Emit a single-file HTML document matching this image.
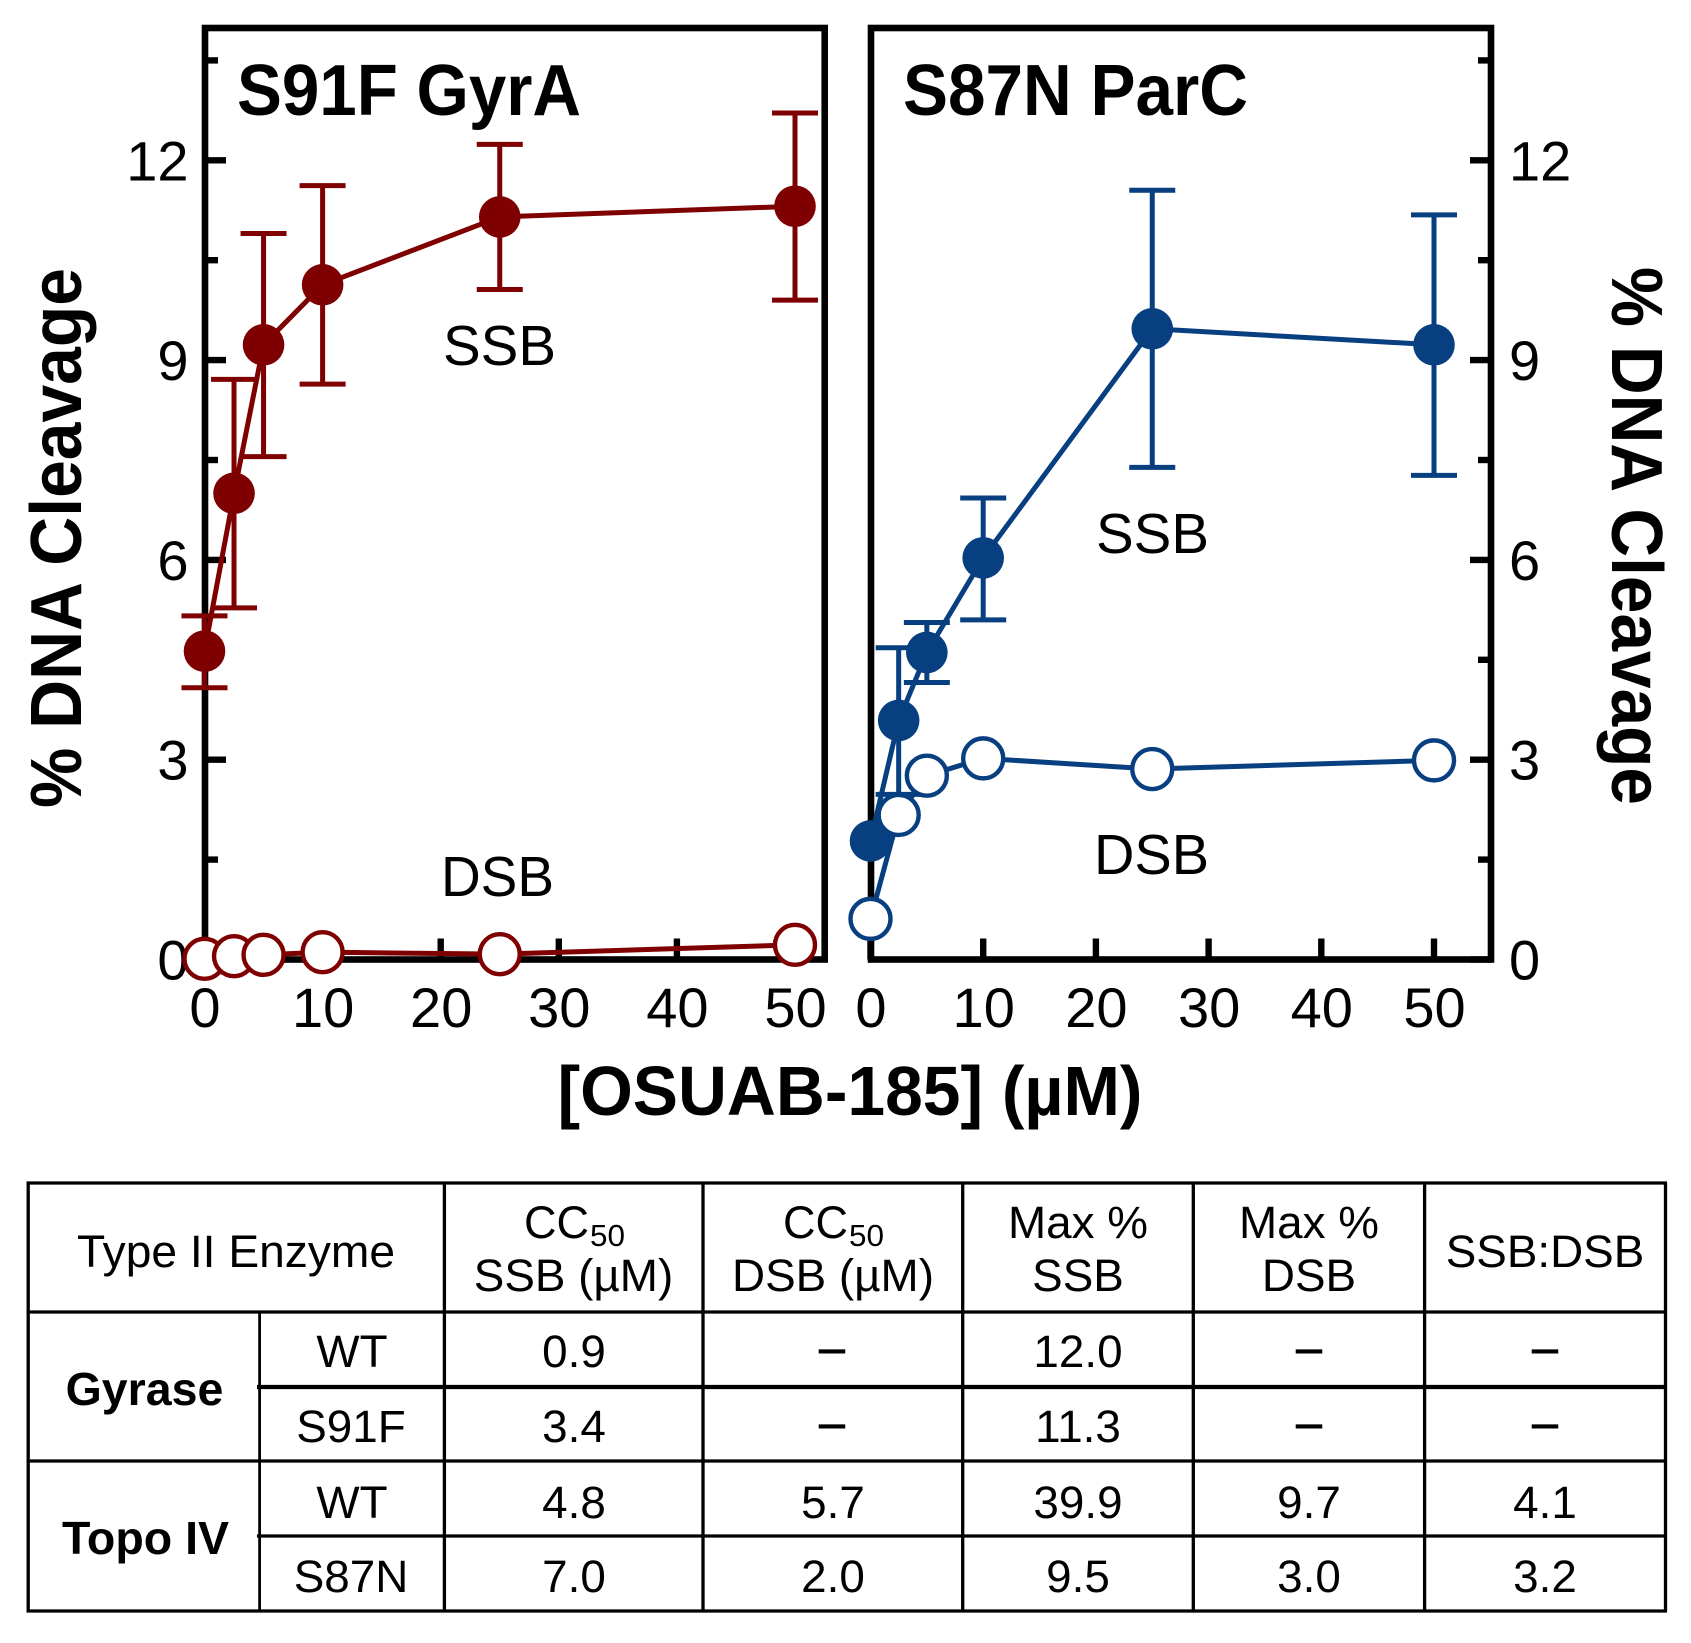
<!DOCTYPE html>
<html lang="en">
<head>
<meta charset="utf-8">
<title>OSUAB-185 DNA Cleavage</title>
<style>
html,body{margin:0;padding:0;background:#fff;}
svg{display:block;}
text{font-family:"Liberation Sans",Arial,sans-serif;fill:#000;}
.b{font-weight:bold;}
.t{font-size:45.8px;text-anchor:middle;}
.d{stroke:#000;stroke-width:1.1;}
.line{stroke:#000;stroke-width:3.3;fill:none;}
</style>
</head>
<body>
<svg id="figure" xmlns="http://www.w3.org/2000/svg" width="1691" height="1643" viewBox="0 0 1691 1643">
  <rect x="0" y="0" width="1691" height="1643" fill="#fff"/>
  <g id="charts"></g>

  <text class="b" x="237" y="115" font-size="72" textLength="344" lengthAdjust="spacingAndGlyphs">S91F GyrA</text>
  <text class="b" x="903" y="115" font-size="72" textLength="345" lengthAdjust="spacingAndGlyphs">S87N ParC</text>
  <text x="443" y="365" font-size="57" textLength="113" lengthAdjust="spacingAndGlyphs">SSB</text>
  <text x="441" y="896" font-size="57" textLength="113" lengthAdjust="spacingAndGlyphs">DSB</text>
  <text x="1096" y="553" font-size="57" textLength="113" lengthAdjust="spacingAndGlyphs">SSB</text>
  <text x="1094" y="874" font-size="57" textLength="115" lengthAdjust="spacingAndGlyphs">DSB</text>
  <text class="b" transform="translate(81,808) rotate(-90)" font-size="72" textLength="540" lengthAdjust="spacingAndGlyphs">% DNA Cleavage</text>
  <text class="b" transform="translate(1612,267) rotate(90)" font-size="72" textLength="538" lengthAdjust="spacingAndGlyphs">% DNA Cleavage</text>
  <text class="b" x="557.5" y="1115" font-size="70" textLength="585" lengthAdjust="spacingAndGlyphs">[OSUAB-185] (µM)</text>

  <g id="summary-table">
    <path class="line" d="M26.5 1183H1667 M26.5 1312H1667 M257 1461H1667 M26.5 1461H257 M257 1536H1667 M26.5 1611H1667"/>
    <path d="M257 1387H1667" stroke="#000" stroke-width="4.2" fill="none"/>
    <path class="line" d="M28.2 1183V1611 M444.4 1183V1611 M703 1183V1611 M962.7 1183V1611 M1193.3 1183V1611 M1424.6 1183V1611 M1665.5 1183V1611"/>
    <path d="M259.6 1311V1611" stroke="#000" stroke-width="2.8" fill="none"/>

    <text x="77" y="1267" font-size="45" textLength="318" lengthAdjust="spacingAndGlyphs">Type II Enzyme</text>
    <text x="524" y="1238" font-size="45" textLength="65" lengthAdjust="spacingAndGlyphs">CC</text>
    <text x="590" y="1246" font-size="31" textLength="35" lengthAdjust="spacingAndGlyphs">50</text>
    <text class="t" x="573.5" y="1291">SSB (µM)</text>
    <text x="783" y="1238" font-size="45" textLength="65" lengthAdjust="spacingAndGlyphs">CC</text>
    <text x="849" y="1246" font-size="31" textLength="35" lengthAdjust="spacingAndGlyphs">50</text>
    <text class="t" x="833" y="1291">DSB (µM)</text>
    <text class="t" x="1078" y="1238">Max %</text>
    <text class="t" x="1078" y="1291">SSB</text>
    <text class="t" x="1309" y="1238">Max %</text>
    <text class="t" x="1309" y="1291">DSB</text>
    <text class="t" x="1545" y="1267">SSB:DSB</text>

    <text class="b" x="144.5" y="1405" font-size="46.5" text-anchor="middle">Gyrase</text>
    <text class="b" x="145.5" y="1554" font-size="46.5" text-anchor="middle">Topo IV</text>

    <text class="t" x="352" y="1367">WT</text>
    <text class="t" x="574" y="1367">0.9</text>
    <text class="t d" x="832" y="1363">–</text>
    <text class="t" x="1078" y="1367">12.0</text>
    <text class="t d" x="1309" y="1363">–</text>
    <text class="t d" x="1545" y="1363">–</text>

    <text class="t" x="351" y="1442">S91F</text>
    <text class="t" x="574" y="1442">3.4</text>
    <text class="t d" x="832" y="1438">–</text>
    <text class="t" x="1078" y="1442">11.3</text>
    <text class="t d" x="1309" y="1438">–</text>
    <text class="t d" x="1545" y="1438">–</text>

    <text class="t" x="352" y="1518">WT</text>
    <text class="t" x="574" y="1518">4.8</text>
    <text class="t" x="833" y="1518">5.7</text>
    <text class="t" x="1078" y="1518">39.9</text>
    <text class="t" x="1309" y="1518">9.7</text>
    <text class="t" x="1545" y="1518">4.1</text>

    <text class="t" x="351" y="1592">S87N</text>
    <text class="t" x="574" y="1592">7.0</text>
    <text class="t" x="833" y="1592">2.0</text>
    <text class="t" x="1078" y="1592">9.5</text>
    <text class="t" x="1309" y="1592">3.0</text>
    <text class="t" x="1545" y="1592">3.2</text>
  </g>
</svg>

<script>
var concentrations = [0, 2.5, 5, 10, 25, 50];
var xTickValues = [0, 10, 20, 30, 40, 50];
var yTickValues = [0, 3, 6, 9, 12];
var yMinorTickValues = [1.5, 4.5, 7.5, 10.5, 13.5];

var gyraSsb = [4.63, 7.0, 9.23, 10.13, 11.15, 11.31];
var gyraSsbUpper = [5.16, 8.71, 10.9, 11.62, 12.24, 12.71];
var gyraSsbLower = [4.08, 5.28, 7.55, 8.64, 10.06, 9.9];
var gyraDsb = [0.01, 0.05, 0.07, 0.11, 0.08, 0.22];

var parcSsb = [1.78, 3.59, 4.61, 6.03, 9.47, 9.23];
var parcSsbUpper = [null, 4.68, 5.06, 6.93, 11.55, 11.18];
var parcSsbLower = [null, 2.48, 4.16, 5.1, 7.39, 7.27];
var parcDsb = [0.61, 2.17, 2.76, 3.02, 2.86, 2.99];

var SVG_NS = 'http://www.w3.org/2000/svg';
var Y0 = 959.5, Y_UNIT = 66.6, FRAME_TOP = 28;

function yScale(v) { return Y0 - v * Y_UNIT; }

function make(parent, tag, attrs) {
  var el = document.createElementNS(SVG_NS, tag);
  for (var k in attrs) { el.setAttribute(k, attrs[k]); }
  parent.appendChild(el);
  return el;
}

function drawSeriesLine(g, xScale, values, color, name) {
  var pts = values.map(function (v, i) { return xScale(concentrations[i]) + ',' + yScale(v); }).join(' ');
  var el = make(g, 'polyline', { points: pts, fill: 'none', stroke: color, 'stroke-width': 5, 'stroke-linejoin': 'round' });
  
  
}

function drawPanel(p) {
  var xScale = function (c) { return p.x0 + c * p.xUnit; };
  var root = document.getElementById('charts');
  var g = make(root, 'g', {});
  
  

  var frame = make(g, 'rect', { x: p.left, y: FRAME_TOP, width: p.right - p.left, height: Y0 - FRAME_TOP, fill: 'none', stroke: '#000', 'stroke-width': 6.6 });
  
  

  var tickEdge = p.side === 'left' ? p.left : p.right;
  var tickDir = p.side === 'left' ? 1 : -1;

  yTickValues.forEach(function (v) {
    var t = make(g, 'line', { x1: tickEdge, x2: tickEdge + tickDir * 21, y1: yScale(v), y2: yScale(v), stroke: '#000', 'stroke-width': 6.4 });
    
    
    var lab = make(g, 'text', { x: p.yLabelX, y: yScale(v) + 20, 'font-size': 56, 'text-anchor': p.side === 'left' ? 'end' : 'start' });
    lab.textContent = String(v);
    
    
  });
  yMinorTickValues.forEach(function (v) {
    var t = make(g, 'line', { x1: tickEdge, x2: tickEdge + tickDir * 13, y1: yScale(v), y2: yScale(v), stroke: '#000', 'stroke-width': 6.4 });
    
    
  });
  xTickValues.forEach(function (c) {
    var t = make(g, 'line', { x1: xScale(c), x2: xScale(c), y1: Y0, y2: Y0 - 21, stroke: '#000', 'stroke-width': 6.4 });
    
    
    var lab = make(g, 'text', { x: xScale(c) + 0.5, y: 1027, 'font-size': 56, 'text-anchor': 'middle' });
    lab.textContent = String(c);
    
    
  });

  concentrations.forEach(function (c, i) {
    if (p.upper[i] === null) { return; }
    var cx = xScale(c), yU = yScale(p.upper[i]), yL = yScale(p.lower[i]);
    var bar = make(g, 'path', {
      d: 'M' + cx + ' ' + yU + 'V' + yL + 'M' + (cx - 23) + ' ' + yU + 'H' + (cx + 23) + 'M' + (cx - 23) + ' ' + yL + 'H' + (cx + 23),
      fill: 'none', stroke: p.color, 'stroke-width': 5
    });
    
    
  });

  drawSeriesLine(g, xScale, p.ssb, p.color, p.name + '-ssb');
  p.ssb.forEach(function (v, i) {
    var m = make(g, 'circle', { cx: xScale(concentrations[i]), cy: yScale(v), r: 20.8, fill: p.color });
    
    
  });

  drawSeriesLine(g, xScale, p.dsb, p.color, p.name + '-dsb');
  p.dsb.forEach(function (v, i) {
    var m = make(g, 'circle', { cx: xScale(concentrations[i]), cy: yScale(v), r: 20, fill: '#fff', stroke: p.color, 'stroke-width': 4.4 });
    
    
  });
}

drawPanel({ name: 'gyra', side: 'left', left: 205, right: 824.7, x0: 204.5, xUnit: 11.81, yLabelX: 188.5, color: '#7f0000', ssb: gyraSsb, upper: gyraSsbUpper, lower: gyraSsbLower, dsb: gyraDsb });
drawPanel({ name: 'parc', side: 'right', left: 871, right: 1491, x0: 870.5, xUnit: 11.27, yLabelX: 1509, color: '#073f80', ssb: parcSsb, upper: parcSsbUpper, lower: parcSsbLower, dsb: parcDsb });
</script>
</body>
</html>
